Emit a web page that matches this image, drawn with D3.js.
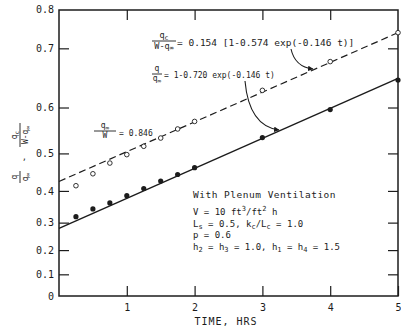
<!DOCTYPE html>
<html>
<head>
<meta charset="utf-8">
<script src="https://cdn.jsdelivr.net/npm/d3@7"></script>
<style>
  body { margin: 0; background: #fff; }
  svg { display: block; }
  text { font-family: "DejaVu Sans Mono", monospace; fill: #1c1c1c; }
</style>
</head>
<body>
<svg id="chart" width="401" height="328"></svg>
<script>
// time (hrs) of the measured points
var times = [0.25, 0.5, 0.75, 1, 1.25, 1.5, 1.75, 2, 3, 4, 5];
// q / q_inf  (filled dots)
var qFilled = [0.320, 0.345, 0.364, 0.386, 0.407, 0.428, 0.446, 0.464, 0.537, 0.596, 0.650];
// q_c / (W q_inf)  (open circles)
var qOpen = [0.415, 0.448, 0.476, 0.497, 0.517, 0.536, 0.556, 0.572, 0.632, 0.680, 0.722];
// fitted curves, straight on this axis, read at both ends
var fitTimes = [0, 5];
var solidFit = [0.280, 0.653];
var dashedFit = [0.427, 0.722];

var xTicks = [1, 2, 3, 4, 5];
var yTicks = [0, 0.1, 0.2, 0.3, 0.4, 0.5, 0.6, 0.7];
var yTopLabel = "0.8";
var blockLines = ["With Plenum Ventilation", "V = 10 ft3/ft2 h", "Ls = 0.5, kc/Lc = 1.0", "p = 0.6", "h2 = h3 = 1.0, h1 = h4 = 1.5"];

var pl = 59, pr = 398, pt = 10, pb = 296;
var ink = "#1c1c1c";

var svg = d3.select("#chart");

var x = d3.scaleLinear().domain([0, 5]).range([pl, pr]);
// axis is ln(1 - value): log scale on the complement
var yc = d3.scaleLog().domain([1, 0.249]).range([pb, pt]);
function y(v) { return yc(1 - v); }
function fmt(d) { var v = 1 - d; return Math.abs(v) < 1e-9 ? "0" : d3.format(".1f")(v); }

// frame
svg.append("rect")
  .attr("x", pl).attr("y", pt)
  .attr("width", pr - pl).attr("height", pb - pt)
  .attr("fill", "none").attr("stroke", ink).attr("stroke-width", 1.5);

// axes with inward ticks
var gl = svg.append("g").attr("transform", "translate(" + pl + ",0)")
  .call(d3.axisLeft(yc).tickValues(yTicks.map(function(v) { return 1 - v; })).tickFormat(fmt).tickSize(-10).tickPadding(5));
var gr = svg.append("g").attr("transform", "translate(" + pr + ",0)")
  .call(d3.axisRight(yc).tickValues(yTicks.slice(1).map(function(v) { return 1 - v; })).tickFormat("").tickSize(-10));
var gb = svg.append("g").attr("transform", "translate(0," + pb + ")")
  .call(d3.axisBottom(x).tickValues(xTicks).tickFormat(d3.format("d")).tickSize(-10).tickPadding(8));
var gt = svg.append("g").attr("transform", "translate(0," + pt + ")")
  .call(d3.axisTop(x).tickValues(xTicks.slice(0, 4)).tickFormat("").tickSize(-10));

[gl, gr, gb, gt].forEach(function(g) {
  g.select(".domain").remove();
  g.selectAll(".tick line").attr("stroke", ink).attr("stroke-width", 1.2);
  g.selectAll(".tick text").attr("fill", ink).style("font-family", "DejaVu Sans Mono").style("font-size", "10px");
});
gl.select(".tick line").remove();

svg.append("text").attr("x", pl - 5).attr("y", pt).attr("dy", "0.32em")
  .attr("text-anchor", "end").style("font-size", "10px").text(yTopLabel);

svg.append("text").attr("x", 226).attr("y", 325).attr("text-anchor", "middle")
  .style("font-size", "10px").style("letter-spacing", "1px").text("TIME, HRS");

// y label: two rotated fractions
function vFrac(cx, cy, num, numSub, den, denSub, w) {
  var g = svg.append("g").attr("transform", "translate(" + cx + "," + cy + ") rotate(-90)");
  var t1 = g.append("text").attr("y", -3).attr("text-anchor", "middle").style("font-size", "8px").text(num);
  if (numSub) t1.append("tspan").attr("dy", 2).style("font-size", "6px").text(numSub);
  g.append("line").attr("x1", -w / 2).attr("x2", w / 2).attr("y1", 0).attr("y2", 0).attr("stroke", ink).attr("stroke-width", 0.9);
  var t2 = g.append("text").attr("y", 8).attr("text-anchor", "middle").style("font-size", "8px").text(den);
  if (denSub) t2.append("tspan").attr("dy", 1.5).style("font-size", "6px").text(denSub);
}
vFrac(20, 135, "q", "c", "W-q", "\u221e", 24);
svg.append("text").attr("x", 22).attr("y", 160).style("font-size", "8px").text(",");
vFrac(20, 177, "q", null, "q", "\u221e", 12);

// fitted lines
var line = d3.line().x(function(d) { return x(d[0]); }).y(function(d) { return y(d[1]); });
svg.append("path").datum(fitTimes.map(function(t, i) { return [t, solidFit[i]]; }))
  .attr("d", line).attr("fill", "none").attr("stroke", ink).attr("stroke-width", 1.4);
svg.append("path").datum(fitTimes.map(function(t, i) { return [t, dashedFit[i]]; }))
  .attr("d", line).attr("fill", "none").attr("stroke", ink).attr("stroke-width", 1.2)
  .attr("stroke-dasharray", "7,4");

// points
svg.selectAll(".open").data(times).enter().append("circle")
  .attr("cx", function(d) { return x(d); })
  .attr("cy", function(d, i) { return y(qOpen[i]); })
  .attr("r", 2.3).attr("fill", "#fff").attr("stroke", ink).attr("stroke-width", 0.9);
svg.selectAll(".filled").data(times).enter().append("circle")
  .attr("cx", function(d) { return x(d); })
  .attr("cy", function(d, i) { return y(qFilled[i]); })
  .attr("r", 2.6).attr("fill", ink);

// annotations
function hFrac(x0, yb, num, numSub, den, denSub, w, size) {
  var t1 = svg.append("text").attr("x", x0 + w / 2).attr("y", yb - 3).attr("text-anchor", "middle").style("font-size", size + "px").text(num);
  if (numSub) t1.append("tspan").attr("dy", 2).style("font-size", (size - 2) + "px").text(numSub);
  svg.append("line").attr("x1", x0).attr("x2", x0 + w).attr("y1", yb).attr("y2", yb).attr("stroke", ink).attr("stroke-width", 0.9);
  var t2 = svg.append("text").attr("x", x0 + w / 2).attr("y", yb + size - 1).attr("text-anchor", "middle").style("font-size", size + "px").text(den);
  if (denSub) t2.append("tspan").attr("dy", 1.5).style("font-size", (size - 2) + "px").text(denSub);
}
hFrac(152, 41, "q", "c", "W-q", "\u221e", 24, 8.5);
svg.append("text").attr("x", 177).attr("y", 46).style("font-size", "9.5px").text("= 0.154 [1-0.574 exp(-0.146 t)]");

hFrac(152, 74, "q", null, "q", "\u221e", 10, 8);
svg.append("text").attr("x", 164).attr("y", 78).style("font-size", "8px").text("= 1-0.720 exp(-0.146 t)");

hFrac(94, 131, "q", "\u221e", "W", null, 22, 8);
svg.append("text").attr("x", 119).attr("y", 136).style("font-size", "8px").text("= 0.846");

// curved arrows
svg.append("defs").append("marker").attr("id", "ah")
  .attr("viewBox", "0 0 10 10").attr("refX", 9).attr("refY", 5)
  .attr("markerWidth", 5).attr("markerHeight", 5).attr("orient", "auto")
  .append("path").attr("d", "M0,0 L10,5 L0,10 z").attr("fill", ink);
svg.append("path").attr("d", "M291,49 Q295,67 313,69").attr("fill", "none").attr("stroke", ink).attr("stroke-width", 1.1).attr("marker-end", "url(#ah)");
svg.append("path").attr("d", "M245,81 Q249,126 279,130").attr("fill", "none").attr("stroke", ink).attr("stroke-width", 1.1).attr("marker-end", "url(#ah)");

// parameter block
var blk = svg.append("g");
blk.append("text").attr("x", 193).attr("y", 198).style("font-size", "9.5px").style("letter-spacing", "0.5px").text(blockLines[0]);
var l1 = blk.append("text").attr("x", 193).attr("y", 215).style("font-size", "9px");
l1.append("tspan").text("V = 10 ft");
l1.append("tspan").attr("dy", -4).style("font-size", "7px").text("3");
l1.append("tspan").attr("dy", 4).text("/ft");
l1.append("tspan").attr("dy", -4).style("font-size", "7px").text("2");
l1.append("tspan").attr("dy", 4).text(" h");
var l2 = blk.append("text").attr("x", 193).attr("y", 227).style("font-size", "9px");
l2.append("tspan").text("L");
l2.append("tspan").attr("dy", 2).style("font-size", "7px").text("s");
l2.append("tspan").attr("dy", -2).text(" = 0.5, k");
l2.append("tspan").attr("dy", 2).style("font-size", "7px").text("c");
l2.append("tspan").attr("dy", -2).text("/L");
l2.append("tspan").attr("dy", 2).style("font-size", "7px").text("c");
l2.append("tspan").attr("dy", -2).text(" = 1.0");
blk.append("text").attr("x", 193).attr("y", 238).style("font-size", "9px").text(blockLines[3]);
var l4 = blk.append("text").attr("x", 193).attr("y", 250).style("font-size", "9px");
[["h", "2", " = "], ["h", "3", " = 1.0, "], ["h", "1", " = "], ["h", "4", " = 1.5"]].forEach(function(p) {
  l4.append("tspan").text(p[0]);
  l4.append("tspan").attr("dy", 2).style("font-size", "7px").text(p[1]);
  l4.append("tspan").attr("dy", -2).text(p[2]);
});
</script>
</body>
</html>
